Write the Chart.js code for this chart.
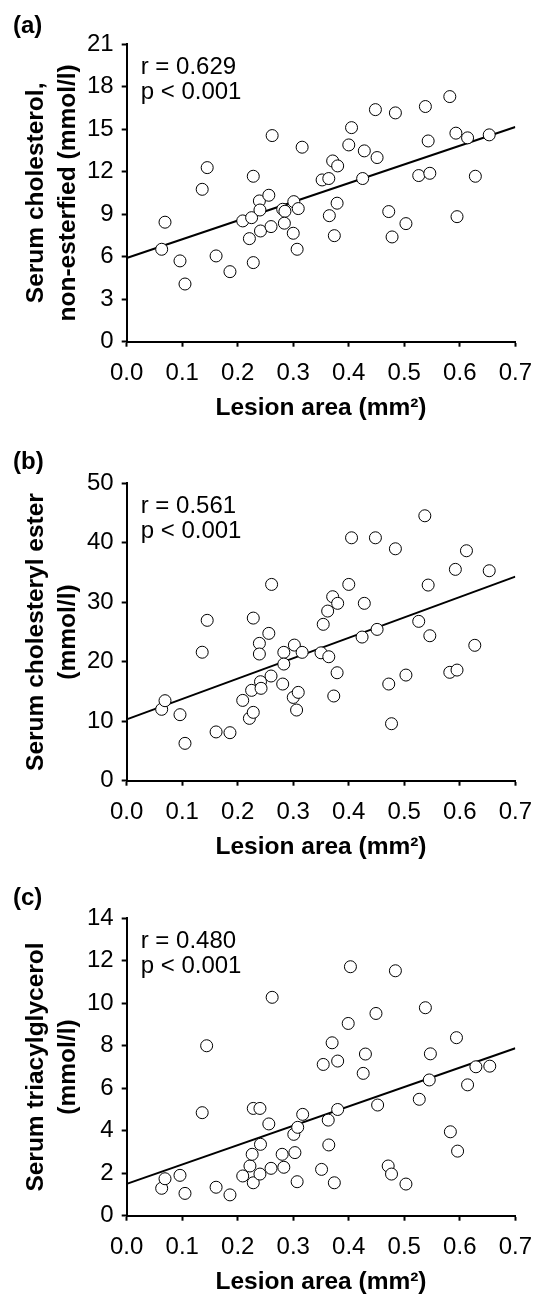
<!DOCTYPE html>
<html>
<head>
<meta charset="utf-8">
<script src="https://cdn.jsdelivr.net/npm/chart.js@4.4.1/dist/chart.umd.min.js"></script>
<style>
  html, body { margin: 0; padding: 0; background: #fff; overflow: hidden; }
  canvas { position: absolute; left: 0; }
</style>
</head>
<body>
<canvas id="chartA" width="544" height="430" style="top:0px"></canvas>
<canvas id="chartB" width="544" height="440" style="top:430px"></canvas>
<canvas id="chartC" width="544" height="441" style="top:860px"></canvas>
<script>
// x axis (shared)
var xTickValues = [0, 0.1, 0.2, 0.3, 0.4, 0.5, 0.6, 0.7];
var xTickLabels = ['0.0', '0.1', '0.2', '0.3', '0.4', '0.5', '0.6', '0.7'];
var xTitle = 'Lesion area (mm²)';
var lineX = [0, 0.7];

// (a) serum cholesterol, non-esterfied
var xA = [0.063, 0.069, 0.096, 0.105, 0.136, 0.145, 0.161, 0.186, 0.209, 0.221, 0.225, 0.228, 0.228, 0.239, 0.240,
          0.241, 0.256, 0.260, 0.262, 0.281, 0.285, 0.284, 0.301, 0.309, 0.300, 0.307, 0.316, 0.352, 0.364, 0.371,
          0.380, 0.379, 0.365, 0.374, 0.405, 0.400, 0.428, 0.451, 0.448, 0.484, 0.425, 0.472, 0.478, 0.503, 0.526,
          0.546, 0.538, 0.543, 0.582, 0.593, 0.614, 0.653, 0.628, 0.595];
var yA = [6.52, 8.43, 5.70, 4.07, 10.75, 12.28, 6.05, 4.94, 8.52, 7.27, 8.75, 11.67, 5.58, 9.93, 9.29,
          7.81, 10.33, 8.12, 14.54, 9.34, 9.2, 8.36, 9.88, 9.39, 7.65, 6.52, 13.72, 11.41, 11.51, 12.75,
          12.40, 9.77, 8.89, 7.48, 15.10, 13.88, 13.46, 12.99, 16.37, 16.14, 11.51, 9.18, 7.39, 8.33, 11.72,
          11.88, 16.59, 14.16, 17.29, 14.71, 14.38, 14.59, 11.67, 8.82];
var fitA = [5.9, 15.15];
var yTicksA = [0, 3, 6, 9, 12, 15, 18, 21];
var statsA = ['r = 0.629', 'p < 0.001'];

// (b) serum cholesteryl ester
var xB = [0.063, 0.069, 0.096, 0.105, 0.136, 0.145, 0.161, 0.186, 0.209, 0.221, 0.228, 0.225, 0.228, 0.239, 0.239,
          0.241, 0.242, 0.256, 0.260, 0.261, 0.281, 0.283, 0.283, 0.302, 0.316, 0.300, 0.309, 0.306, 0.350, 0.364,
          0.354, 0.362, 0.371, 0.380, 0.379, 0.373, 0.400, 0.405, 0.428, 0.448, 0.484, 0.424, 0.451, 0.472, 0.477,
          0.503, 0.526, 0.546, 0.537, 0.543, 0.582, 0.595, 0.592, 0.612, 0.653, 0.627];
var yB = [12.0, 13.45, 11.1, 6.28, 21.6, 26.96, 8.2, 8.07, 13.5, 10.48, 11.49, 15.19, 27.34, 23.09, 21.3,
          16.64, 15.53, 24.77, 17.6, 33.0, 16.25, 21.58, 19.61, 22.8, 21.58, 14.0, 14.85, 11.88, 21.5, 20.84,
          26.29, 28.52, 30.93, 29.82, 18.15, 14.24, 33.0, 40.84, 29.82, 40.84, 38.99, 24.15, 25.44, 16.25, 9.58,
          17.76, 26.79, 24.37, 44.54, 32.89, 18.22, 18.6, 35.53, 38.66, 35.3, 22.76];
var fitB = [10.3, 34.3];
var yTicksB = [0, 10, 20, 30, 40, 50];
var statsB = ['r = 0.561', 'p < 0.001'];

// (c) serum triacylglycerol
var xC = [0.063, 0.069, 0.096, 0.105, 0.136, 0.144, 0.161, 0.186, 0.209, 0.222, 0.226, 0.228, 0.240, 0.228, 0.240,
          0.241, 0.256, 0.260, 0.262, 0.280, 0.283, 0.301, 0.303, 0.308, 0.317, 0.307, 0.351, 0.354, 0.363, 0.364,
          0.370, 0.374, 0.380, 0.380, 0.399, 0.403, 0.426, 0.430, 0.449, 0.452, 0.471, 0.477, 0.484, 0.503, 0.527,
          0.538, 0.545, 0.547, 0.583, 0.594, 0.596, 0.614, 0.629, 0.654];
var yC = [1.29, 1.74, 1.90, 1.05, 4.85, 8.0, 1.34, 0.98, 1.87, 2.34, 2.89, 5.05, 5.05, 1.55, 1.96,
          3.36, 4.32, 2.23, 10.28, 2.89, 2.28, 3.83, 2.97, 4.16, 4.77, 1.6, 2.18, 7.12, 4.50, 3.33,
          8.14, 1.55, 7.28, 5.0, 9.05, 11.72, 6.70, 7.61, 9.52, 5.21, 2.34, 1.96, 11.53, 1.49, 5.48,
          9.79, 6.39, 7.62, 3.95, 8.38, 3.04, 6.16, 7.01, 7.04];
var fitC = [1.5, 7.88];
var yTicksC = [0, 2, 4, 6, 8, 10, 12, 14];
var statsC = ['r = 0.480', 'p < 0.001'];

var FONT = "'Liberation Sans', Arial, sans-serif";
Chart.defaults.font.family = FONT;
Chart.defaults.color = '#000';

// r / p text in the top left corner of the plot
var statsText = {
    id: 'statsText',
    afterDatasetsDraw: function(chart, args, opts) {
        var a = chart.chartArea, c = chart.ctx;
        c.save();
        c.font = '24px ' + FONT;
        c.fillStyle = '#000';
        c.textAlign = 'left';
        c.textBaseline = 'middle';
        for (var i = 0; i < opts.lines.length; i++) {
            c.fillText(opts.lines[i], a.left + 14, a.top + 23.5 + i * 25);
        }
        c.restore();
    }
};

function makeChart(id, p) {
    var points = p.x.map(function(v, i) { return {x: v, y: p.y[i]}; });
    var fit = lineX.map(function(v, i) { return {x: v, y: p.fit[i]}; });
    var ctx = document.getElementById(id).getContext('2d');
    var H = ctx.canvas.height;
    return new Chart(ctx, {
        type: 'scatter',
        data: {
            datasets: [{
                data: points,
                pointRadius: 6,
                pointBackgroundColor: '#fff',
                pointBorderColor: '#000',
                pointBorderWidth: 1
            }, {
                data: fit,
                showLine: true,
                pointRadius: 0,
                borderColor: '#000',
                borderWidth: 2
            }]
        },
        options: {
            responsive: false,
            animation: false,
            layout: {
                padding: {left: 13, right: 544 - 523.3, top: 0, bottom: H - p.bottom - 85}
            },
            plugins: {
                legend: {display: false},
                tooltip: {enabled: false},
                title: {
                    display: true,
                    text: p.letter,
                    align: 'start',
                    color: '#000',
                    font: {size: 24, weight: 'bold', lineHeight: 1.2},
                    padding: {top: p.letterY - 14.4, bottom: p.top - p.letterY - 14.4}
                },
                statsText: {lines: p.stats}
            },
            scales: {
                x: {
                    type: 'linear',
                    min: 0, max: 0.7,
                    afterBuildTicks: function(s) { s.ticks = xTickValues.map(function(v) { return {value: v}; }); },
                    afterFit: function(s) { s.height = 85; },
                    ticks: {
                        color: '#000', padding: 12, font: {size: 24},
                        callback: function(v, i) { return xTickLabels[i]; }
                    },
                    grid: {display: true, drawOnChartArea: false, drawTicks: true, tickLength: 5, tickWidth: 2, tickColor: '#000'},
                    border: {display: true, color: '#000', width: 2},
                    title: {
                        display: true, text: xTitle, color: '#000',
                        font: {size: 24.5, weight: 'bold', lineHeight: 1.2},
                        padding: {top: 0, bottom: 3.3}
                    }
                },
                y: {
                    type: 'linear',
                    min: p.yTicks[0], max: p.yTicks[p.yTicks.length - 1],
                    afterBuildTicks: function(s) { s.ticks = p.yTicks.map(function(v) { return {value: v}; }); },
                    afterFit: function(s) { s.width = 126.7 - 13; },
                    ticks: {
                        color: '#000', padding: 8, font: {size: 24},
                        callback: function(v) { return String(v); }
                    },
                    grid: {display: true, drawOnChartArea: false, drawTicks: true, tickLength: 5, tickWidth: 2, tickColor: '#000'},
                    border: {display: true, color: '#000', width: 2},
                    title: {
                        display: true, text: p.yTitle, color: '#000',
                        font: {size: 24.5, weight: 'bold', lineHeight: 1.3},
                        padding: {top: 7.1, bottom: 0}
                    }
                }
            }
        },
        plugins: [statsText]
    });
}

makeChart('chartA', {x: xA, y: yA, fit: fitA, yTicks: yTicksA, stats: statsA, letter: '(a)',
    yTitle: ['Serum cholesterol,', 'non-esterfied (mmol/l)'], letterY: 26.5, top: 44, bottom: 341.7});
makeChart('chartB', {x: xB, y: yB, fit: fitB, yTicks: yTicksB, stats: statsB, letter: '(b)',
    yTitle: ['Serum cholesteryl ester', '(mmol/l)'], letterY: 32.5, top: 53.3, bottom: 350.7});
makeChart('chartC', {x: xC, y: yC, fit: fitC, yTicks: yTicksC, stats: statsC, letter: '(c)',
    yTitle: ['Serum triacylglycerol', '(mmol/l)'], letterY: 38.5, top: 58.3, bottom: 355.7});
</script>
</body>
</html>
